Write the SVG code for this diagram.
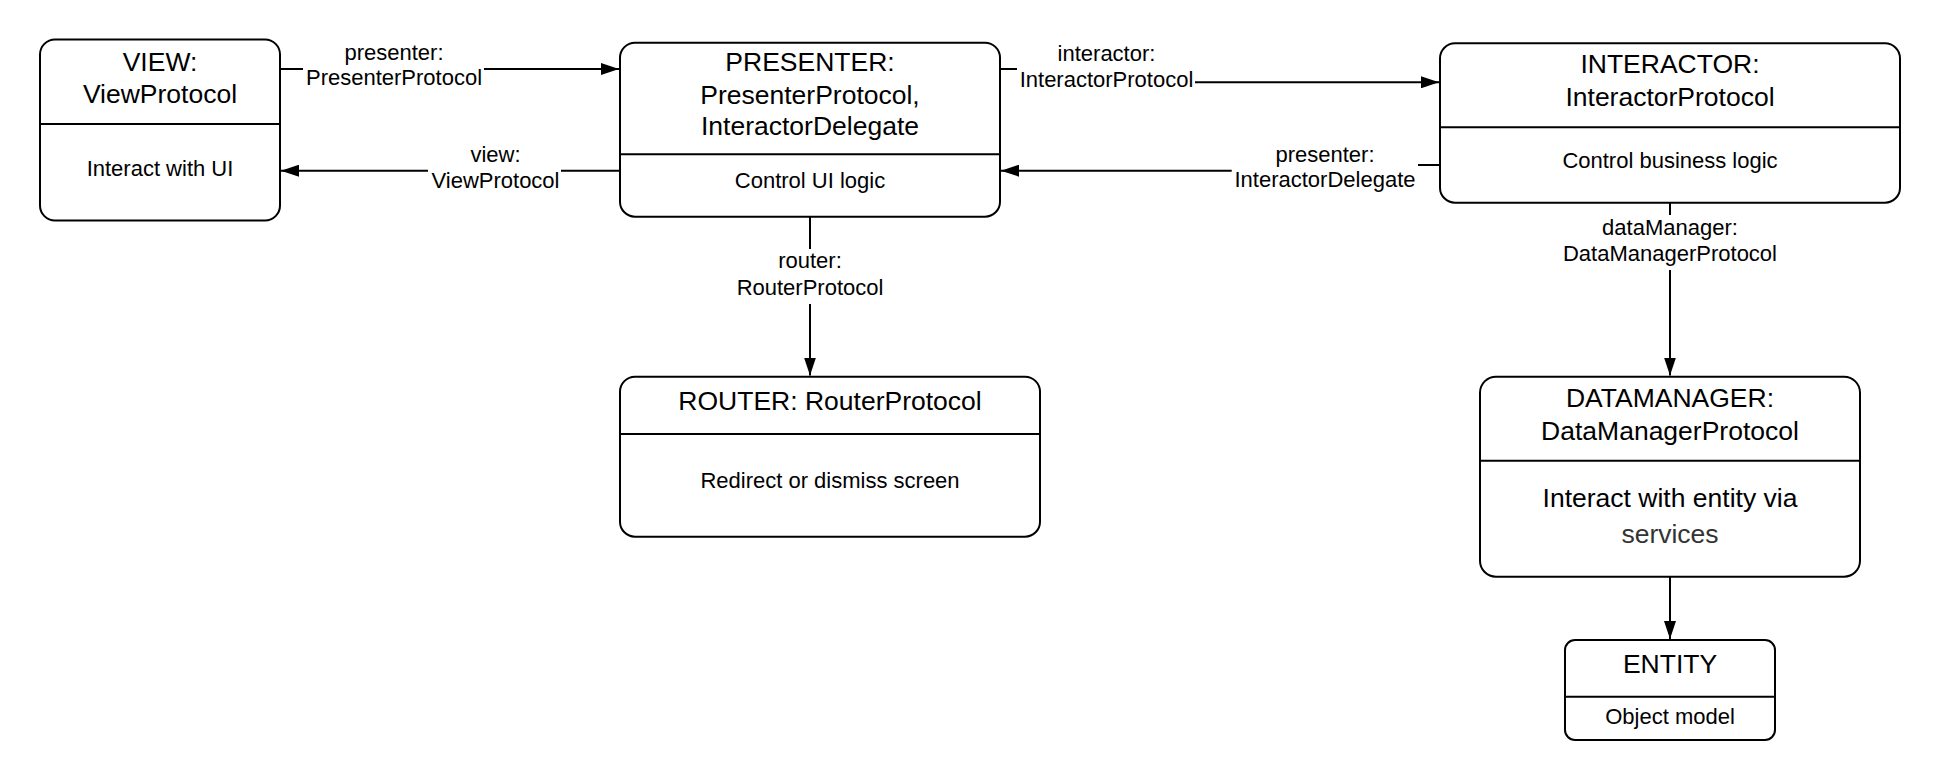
<svg xmlns="http://www.w3.org/2000/svg" width="1940" height="780" viewBox="0 0 1940 780">
  <defs>
    <style>
      .box { fill: #ffffff; stroke: #000000; stroke-width: 2; }
      .div { stroke: #000000; stroke-width: 2; }
      .conn { fill: none; stroke: #000000; stroke-width: 2; }
      text { font-family: "Liberation Sans", Arial, sans-serif; fill: #000000; text-anchor: middle; }
      .title { font-size: 26.5px; }
      .body { font-size: 22px; }
      .bodyL { font-size: 26.5px; }
      .lbl { font-size: 22px; }
    </style>
    <marker id="arrow" markerUnits="userSpaceOnUse" markerWidth="18" markerHeight="12" refX="18" refY="6" orient="auto">
      <path d="M0,0 L18,6 L0,12 Z" fill="#000000"/>
    </marker>
  </defs>
  <rect x="0" y="0" width="1940" height="780" fill="#ffffff"/>

  <g id="connectors">
    <g id="c-view-presenter">
      <path class="conn" d="M280,69 H303"/>
      <path class="conn" d="M484,69 H619" marker-end="url(#arrow)"/>
      <text class="lbl" x="394" y="60">presenter:</text>
      <text class="lbl" x="394" y="85">PresenterProtocol</text>
    </g>
    <g id="c-presenter-view">
      <path class="conn" d="M620,170.7 H561"/>
      <path class="conn" d="M428,170.7 H281" marker-end="url(#arrow)"/>
      <text class="lbl" x="495.5" y="161.7">view:</text>
      <text class="lbl" x="495.5" y="188.3">ViewProtocol</text>
    </g>
    <g id="c-presenter-interactor">
      <path class="conn" d="M1000,69 H1017"/>
      <path class="conn" d="M1195,82.3 H1439" marker-end="url(#arrow)"/>
      <text class="lbl" x="1106.5" y="60.7">interactor:</text>
      <text class="lbl" x="1106.5" y="87.3">InteractorProtocol</text>
    </g>
    <g id="c-interactor-presenter">
      <path class="conn" d="M1440,165 H1418"/>
      <path class="conn" d="M1231.7,170.7 H1001" marker-end="url(#arrow)"/>
      <text class="lbl" x="1325" y="161.7">presenter:</text>
      <text class="lbl" x="1325" y="187.3">InteractorDelegate</text>
    </g>
    <g id="c-presenter-router">
      <path class="conn" d="M810,217 V249"/>
      <path class="conn" d="M810,304 V375.5" marker-end="url(#arrow)"/>
      <text class="lbl" x="810" y="268.3">router:</text>
      <text class="lbl" x="810" y="295">RouterProtocol</text>
    </g>
    <g id="c-interactor-datamanager">
      <path class="conn" d="M1670,203 V215"/>
      <path class="conn" d="M1670,270 V375.5" marker-end="url(#arrow)"/>
      <text class="lbl" x="1670" y="235">dataManager:</text>
      <text class="lbl" x="1670" y="260.7">DataManagerProtocol</text>
    </g>
    <g id="c-datamanager-entity">
      <path class="conn" d="M1670,577 V639" marker-end="url(#arrow)"/>
    </g>
  </g>

  <g id="view">
    <rect class="box" x="40" y="39.5" width="240" height="181" rx="15" ry="15"/>
    <line class="div" x1="40" y1="124" x2="280" y2="124"/>
    <text class="title" x="160" y="70.7">VIEW:</text>
    <text class="title" x="160" y="103.3">ViewProtocol</text>
    <text class="body" x="160" y="176">Interact with UI</text>
  </g>

  <g id="presenter">
    <rect class="box" x="620" y="42.7" width="380" height="174" rx="15" ry="15"/>
    <line class="div" x1="620" y1="154.3" x2="1000" y2="154.3"/>
    <text class="title" x="810" y="70.7">PRESENTER:</text>
    <text class="title" x="810" y="104">PresenterProtocol,</text>
    <text class="title" x="810" y="135">InteractorDelegate</text>
    <text class="body" x="810" y="188.3">Control UI logic</text>
  </g>

  <g id="interactor">
    <rect class="box" x="1440" y="43.3" width="460" height="159.4" rx="15" ry="15"/>
    <line class="div" x1="1440" y1="127.3" x2="1900" y2="127.3"/>
    <text class="title" x="1670" y="73.3">INTERACTOR:</text>
    <text class="title" x="1670" y="106">InteractorProtocol</text>
    <text class="body" x="1670" y="168.3">Control business logic</text>
  </g>

  <g id="router">
    <rect class="box" x="620" y="376.7" width="420" height="160" rx="15" ry="15"/>
    <line class="div" x1="620" y1="434" x2="1040" y2="434"/>
    <text class="title" x="830" y="410">ROUTER: RouterProtocol</text>
    <text class="body" x="830" y="488.3">Redirect or dismiss screen</text>
  </g>

  <g id="datamanager">
    <rect class="box" x="1480" y="376.7" width="380" height="200" rx="16" ry="16"/>
    <line class="div" x1="1480" y1="460.7" x2="1860" y2="460.7"/>
    <text class="title" x="1670" y="407.3">DATAMANAGER:</text>
    <text class="title" x="1670" y="440">DataManagerProtocol</text>
    <text class="bodyL" x="1670" y="506.7">Interact with entity via</text>
    <text class="bodyL" x="1670" y="543.3" style="fill:#333333">services</text>
  </g>

  <g id="entity">
    <rect class="box" x="1565" y="640" width="210" height="100" rx="10" ry="10"/>
    <line class="div" x1="1565" y1="696.7" x2="1775" y2="696.7"/>
    <text class="title" x="1670" y="673.3">ENTITY</text>
    <text class="body" x="1670" y="724">Object model</text>
  </g>
</svg>
